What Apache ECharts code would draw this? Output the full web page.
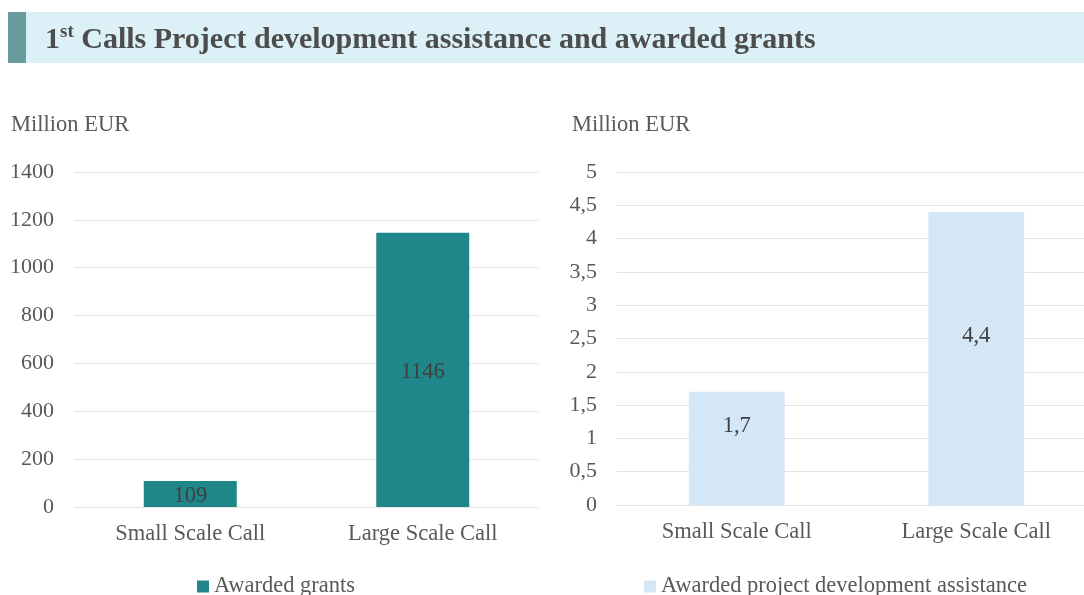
<!DOCTYPE html>
<html>
<head>
<meta charset="utf-8">
<script src="https://cdn.jsdelivr.net/npm/echarts@6/dist/echarts.min.js"></script>
<style>
  html, body { margin: 0; padding: 0; background: #fff; overflow: hidden; }
  #chart { width: 1100px; height: 595px; }
</style>
</head>
<body>
<div id="chart"></div>
<script>
// data
const categories = ['Small Scale Call', 'Large Scale Call'];
const grants = [109, 1146];
const assistance = [1.7, 4.4];
const grantsName = 'Awarded grants';
const assistanceName = 'Awarded project development assistance';

const serif = "'Liberation Serif', 'Times New Roman', serif";
const teal = '#1f8789';
const lightBlue = '#d4e7f7';
const labelGrey = '#595959';
const fs = 22.5;

const comma = v => String(v).replace('.', ',');

// the right plot runs a little past the page edge, so the canvas is wider than the window
const chart = echarts.init(document.getElementById('chart'));

const option = {
  animation: false,
  textStyle: { fontFamily: serif },
  title: {
    left: 45,
    top: 23,
    padding: 0,
    text: '{b|1}{s|st}{b| Calls Project development assistance and awarded grants}',
    textStyle: {
      rich: {
        b: { fontFamily: serif, fontSize: 30, fontWeight: 'bold', color: '#4d4d4d', lineHeight: 34 },
        s: { fontFamily: serif, fontSize: 19, fontWeight: 'bold', color: '#4d4d4d', verticalAlign: 'top', lineHeight: 34, padding: [0, 0, 10, 0] }
      }
    }
  },
  graphic: [
    { type: 'rect', shape: { x: 8, y: 12, width: 1076, height: 51 }, style: { fill: '#dbf0f7' }, z: -1 },
    { type: 'rect', shape: { x: 8, y: 12, width: 18, height: 51 }, style: { fill: '#6a9c9f' }, z: -1 },
    { type: 'text', left: 11, top: 114, style: { text: 'Million EUR', font: fs + 'px ' + serif, fill: labelGrey } },
    { type: 'text', left: 572, top: 114, style: { text: 'Million EUR', font: fs + 'px ' + serif, fill: labelGrey } }
  ],
  legend: [
    {
      data: [grantsName], left: 197, top: 575, padding: 0,
      itemWidth: 12, itemHeight: 12, icon: 'rect',
      textStyle: { fontFamily: serif, fontSize: fs, color: labelGrey }
    },
    {
      data: [assistanceName], left: 644, top: 575, padding: 0,
      itemWidth: 12, itemHeight: 12, icon: 'rect',
      textStyle: { fontFamily: serif, fontSize: fs, color: labelGrey }
    }
  ],
  grid: [
    { left: 74, top: 172, width: 465, height: 335 },
    { left: 617, top: 172, width: 479, height: 333 }
  ],
  xAxis: [0, 1].map(i => ({
    type: 'category', gridIndex: i, data: categories,
    axisLine: { show: false }, axisTick: { show: false },
    axisLabel: { fontFamily: serif, fontSize: fs, color: labelGrey, margin: 16 }
  })),
  yAxis: [
    {
      type: 'value', gridIndex: 0, min: 0, max: 1400, interval: 200,
      axisLabel: { fontFamily: serif, fontSize: 22, color: labelGrey, margin: 20, formatter: v => String(v) },
      splitLine: { lineStyle: { color: '#e4e4e4' } }
    },
    {
      type: 'value', gridIndex: 1, min: 0, max: 5, interval: 0.5,
      axisLabel: { fontFamily: serif, fontSize: 22, color: labelGrey, margin: 20, formatter: comma },
      splitLine: { lineStyle: { color: '#e4e4e4' } }
    }
  ],
  series: [
    {
      name: grantsName, type: 'bar', xAxisIndex: 0, yAxisIndex: 0, data: grants,
      barWidth: '40%',
      itemStyle: { color: teal },
      label: { show: true, position: 'inside', offset: [0, 2], fontFamily: serif, fontSize: fs, color: '#404040' }
    },
    {
      name: assistanceName, type: 'bar', xAxisIndex: 1, yAxisIndex: 1, data: assistance,
      barWidth: '40%',
      itemStyle: { color: lightBlue },
      label: {
        show: true, position: 'inside', offset: [0, -22],
        fontFamily: serif, fontSize: fs, color: '#404040',
        formatter: p => comma(p.value)
      }
    }
  ]
};

chart.setOption(option);
</script>
</body>
</html>
